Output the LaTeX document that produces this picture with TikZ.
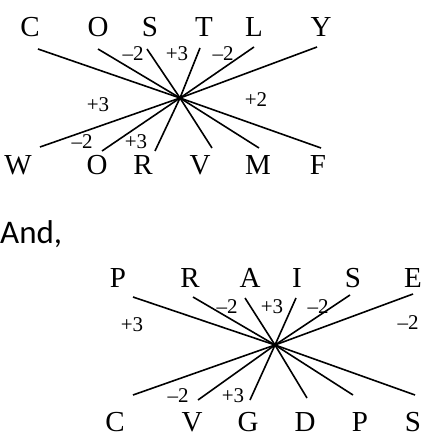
\documentclass[tikz,border=0pt]{standalone}
\usepackage{fontspec}
\setmainfont{Liberation Serif}
\newfontfamily\andfont{Carlito}
\usepackage{tikz}

\begin{document}
\begin{tikzpicture}[x=1pt,y=-1pt,
  letter/.style={inner sep=0pt,font=\fontsize{29}{29}\selectfont},
  num/.style={inner sep=0pt,font=\fontsize{21}{21}\selectfont},
  wire/.style={line width=1.6pt}]
  \useasboundingbox (0,0) rectangle (428,438);
  % first word
  \node[letter] (c1) at (30,27) {C};
  \node[letter] (o1) at (98,27) {O};
  \node[letter] (s1) at (150,27) {S};
  \node[letter] (t1) at (204,27) {T};
  \node[letter] (l1) at (254,27) {L};
  \node[letter] (y1) at (321,27) {Y};
  \node[letter] (w1) at (18,165) {W};
  \node[letter] (o2) at (97,165) {O};
  \node[letter] (r1) at (143,165) {R};
  \node[letter] (v1) at (200,165) {V};
  \node[letter] (m1) at (258,165) {M};
  \node[letter] (f1) at (318,165) {F};
  \coordinate (x1) at (180,98);
  \coordinate (ec1) at (38,49);
  \coordinate (eo1) at (98,49);
  \coordinate (es1) at (147,49);
  \coordinate (et1) at (200,48);
  \coordinate (el1) at (254,47);
  \coordinate (ey1) at (317,47);
  \coordinate (ew1) at (40,147);
  \coordinate (eo2) at (102,151);
  \coordinate (er1) at (155,151);
  \coordinate (ev1) at (212,148);
  \coordinate (em1) at (259,148);
  \coordinate (ef1) at (321,148);
  \foreach \e in {ec1,eo1,es1,et1,el1,ey1,ew1,eo2,er1,ev1,em1,ef1}
    \draw[wire] (x1) -- (\e);
  \node[num] (n1) at (133,54) {--2};
  \node[num] (n2) at (177,54) {+3};
  \node[num] (n3) at (223,54) {--2};
  \node[num] (n4) at (98,105) {+3};
  \node[num] (n5) at (256,100) {+2};
  \node[num] (n6) at (82,142) {--2};
  \node[num] (n7) at (136,142) {+3};
  % and
  \node[anchor=west,inner sep=0pt,font=\andfont\fontsize{33}{33}\selectfont] (and) at (0,234) {And,};
  % second word
  \node[letter] (p2) at (118,278) {P};
  \node[letter] (r2) at (190,278) {R};
  \node[letter] (a2) at (250,278) {A};
  \node[letter] (i2) at (297,278) {I};
  \node[letter] (s2) at (353,278) {S};
  \node[letter] (e2) at (413,278) {E};
  \node[letter] (c2) at (115,422) {C};
  \node[letter] (v2) at (192,422) {V};
  \node[letter] (g2) at (248,422) {G};
  \node[letter] (d2) at (305,422) {D};
  \node[letter] (p3) at (360,422) {P};
  \node[letter] (s3) at (413,422) {S};
  \coordinate (x2) at (275,345);
  \coordinate (ep2) at (133,297);
  \coordinate (er2) at (193,297);
  \coordinate (ea2) at (245,298);
  \coordinate (ei2) at (296,298);
  \coordinate (es2) at (350,295);
  \coordinate (ee2) at (413,294);
  \coordinate (ec2) at (133,395);
  \coordinate (ev2) at (198,400);
  \coordinate (eg2) at (250,400);
  \coordinate (ed2) at (307,398);
  \coordinate (ep3) at (353,395);
  \coordinate (es3) at (415,395);
  \foreach \e in {ep2,er2,ea2,ei2,es2,ee2,ec2,ev2,eg2,ed2,ep3,es3}
    \draw[wire] (x2) -- (\e);
  \node[num] (m1) at (132,325) {+3};
  \node[num] (m2) at (227,307) {--2};
  \node[num] (m3) at (272,307) {+3};
  \node[num] (m4) at (318,307) {--2};
  \node[num] (m5) at (408,323) {--2};
  \node[num] (m6) at (178,396) {--2};
  \node[num] (m7) at (233,396) {+3};
\end{tikzpicture}
\end{document}
